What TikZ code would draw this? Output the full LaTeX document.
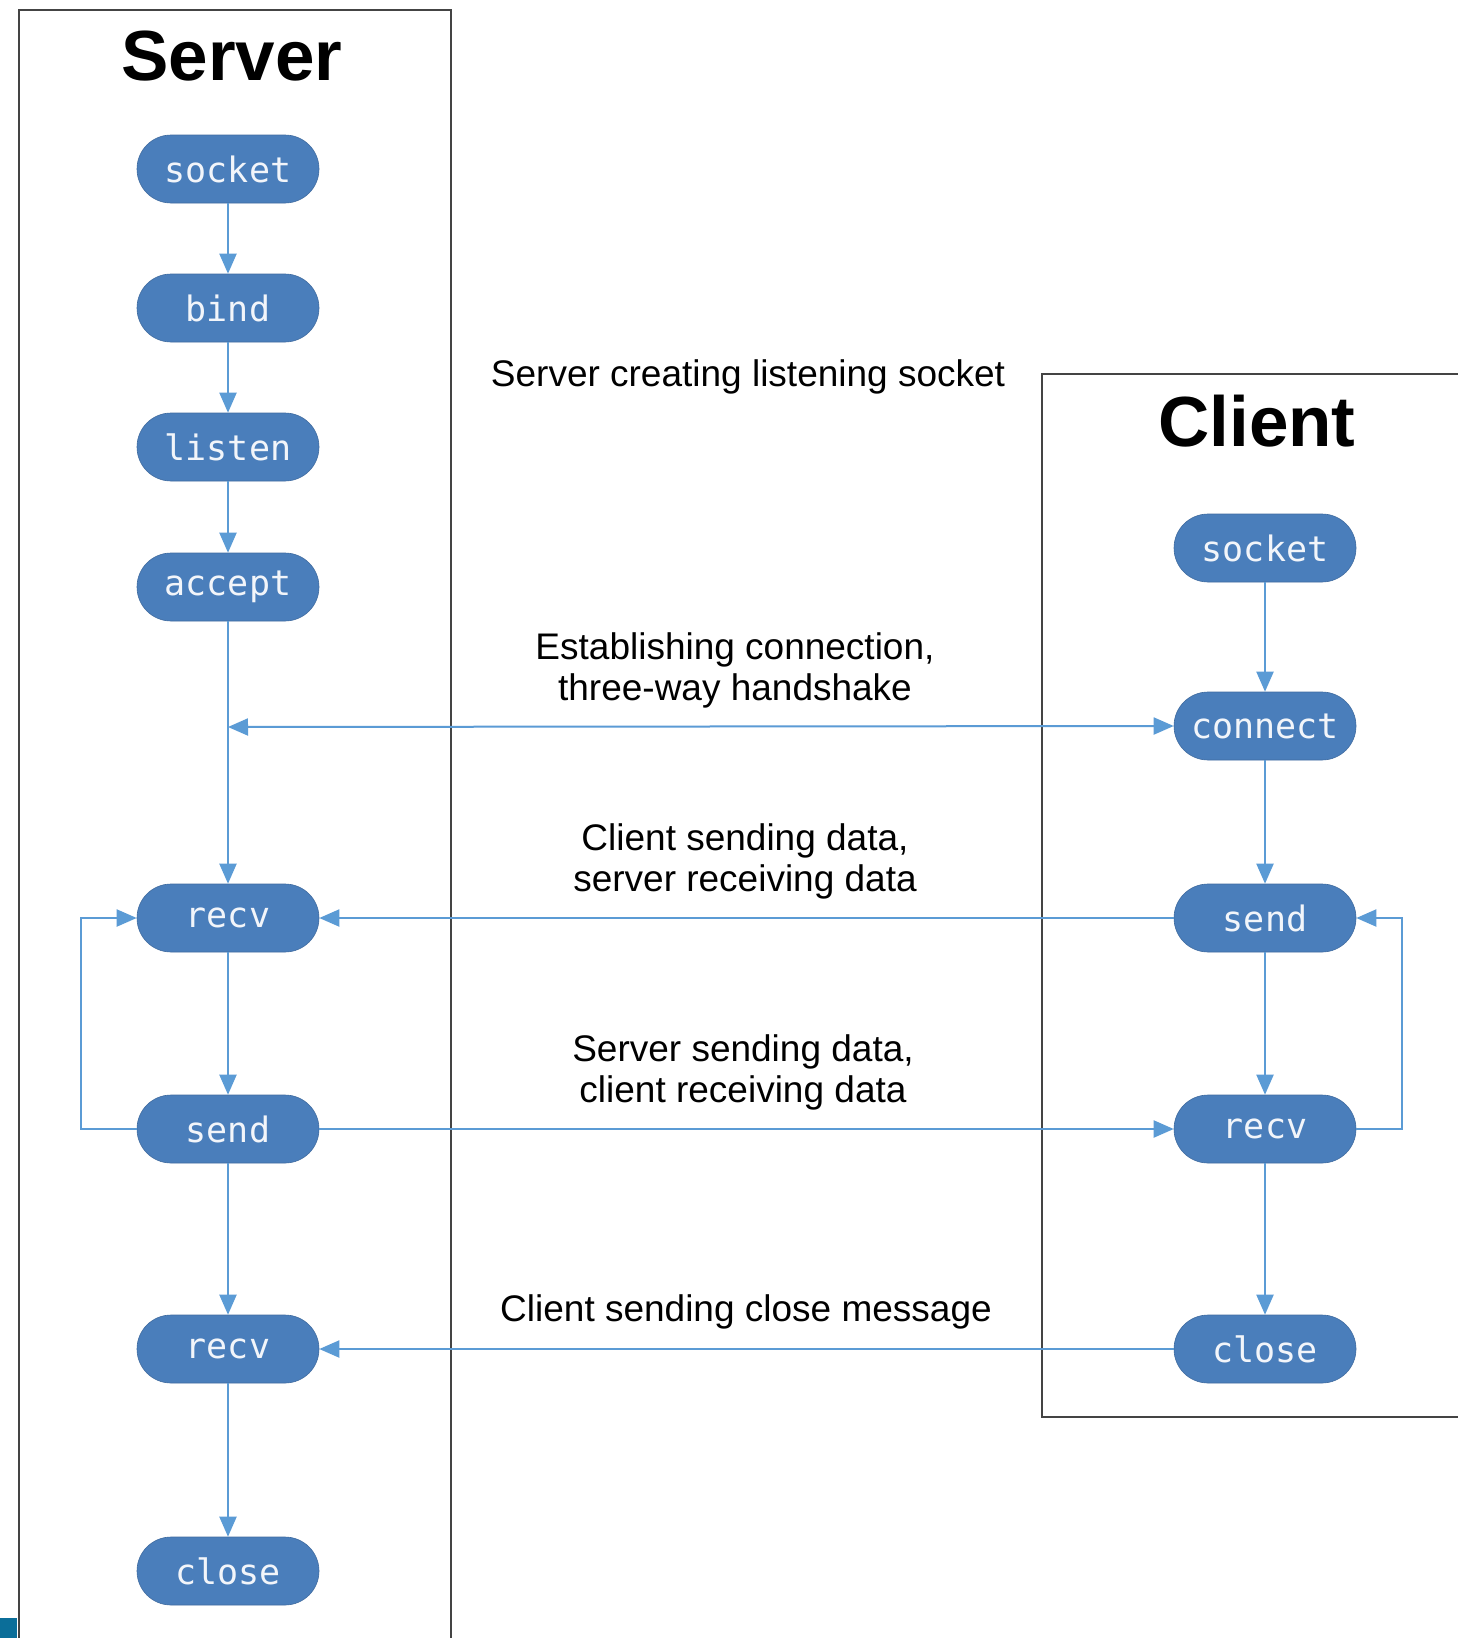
\documentclass[tikz,border=0pt]{standalone}
\usepackage{fontspec}
\setmainfont{Liberation Sans}
\newfontfamily\monofont{DejaVu Sans Mono}
\usetikzlibrary{arrows.meta,calc}
\definecolor{nodefill}{HTML}{4A7EBB}
\definecolor{linkcol}{HTML}{5B9BD5}
\definecolor{boxcol}{HTML}{444444}
\definecolor{nodetext}{HTML}{F2F5FA}
\definecolor{tealsq}{HTML}{0B6E99}
\tikzset{
  fn/.style={rectangle, rounded corners=34pt, fill=nodefill, draw=nodefill!85!black, line width=0.6pt,
    minimum width=182pt, minimum height=68pt, inner sep=0pt,
    text=nodetext, font=\monofont\fontsize{35}{40}\selectfont},
  link/.style={draw=linkcol, line width=2pt, -{Triangle[length=20pt,width=17pt]}},
  biglink/.style={draw=linkcol, line width=2pt, {Triangle[length=20pt,width=17pt]}-{Triangle[length=20pt,width=17pt]}},
  lanebox/.style={draw=boxcol, line width=2.2pt},
  title/.style={font=\bfseries\fontsize{71}{80}\selectfont, inner sep=0pt},
  lbl/.style={font=\fontsize{37}{41}\selectfont, align=center, inner sep=0pt}
}
\begin{document}
\begin{tikzpicture}[x=1pt,y=-1pt]
\useasboundingbox[fill=white] (0,0) rectangle (1458,1638);
% lanes
\draw[lanebox] (19,1645) -- (19,10) -- (451,10) -- (451,1645);
\draw[lanebox] (1470,374) -- (1042,374) -- (1042,1417) -- (1470,1417);
\fill[tealsq] (0,1618) rectangle (17,1638);
% titles
\node[title] (tserver) at (232,56) {Server};
\node[title] (tclient) at (1257,421) {Client};
% server nodes
\node[fn] (ssocket) at (228,169) {socket};
\node[fn] (sbind)   at (228,308) {bind};
\node[fn] (slisten) at (228,447) {listen};
\node[fn] (saccept) at (228,587) {accept};
\node[fn] (srecv)   at (228,918) {recv};
\node[fn] (ssend)   at (228,1129) {send};
\node[fn] (srecvb)  at (228,1349) {recv};
\node[fn] (sclose)  at (228,1571) {close};
% client nodes
\node[fn] (csocket)  at (1265,548) {socket};
\node[fn] (cconnect) at (1265,726) {connect};
\node[fn] (csend)    at (1265,918) {send};
\node[fn] (crecv)    at (1265,1129) {recv};
\node[fn] (cclose)   at (1265,1349) {close};
% labels
\node[lbl] (l1) at (748,377) {Server creating listening socket};
\node[lbl] (l2) at (735,670) {Establishing connection,\\three-way handshake};
\node[lbl] (l3) at (745,861) {Client sending data,\\server receiving data};
\node[lbl] (l4) at (743,1072) {Server sending data,\\client receiving data};
\node[lbl] (l5) at (746,1312) {Client sending close message};
% server flow
\draw[link] (ssocket) -- (sbind);
\draw[link] (sbind) -- (slisten);
\draw[link] (slisten) -- (saccept);
\draw[link] (saccept) -- (srecv);
\draw[link] (srecv) -- (ssend);
\draw[link] (ssend) -- (srecvb);
\draw[link] (srecvb) -- (sclose);
% client flow
\draw[link] (csocket) -- (cconnect);
\draw[link] (cconnect) -- (csend);
\draw[link] (csend) -- (crecv);
\draw[link] (crecv) -- (cclose);
% handshake
\coordinate (hs) at (228,727);
\draw[biglink] (hs) -- (cconnect.west);
% data exchange
\draw[link] (csend.west) -- (srecv.east);
\draw[link] (ssend.east) -- (crecv.west);
\draw[link] (cclose.west) -- (srecvb.east);
% loops
\coordinate (sl) at (81,0);
\coordinate (cl) at (1402,0);
\draw[link] (ssend.west) -- (ssend.west -| sl) -- (srecv.west -| sl) -- (srecv.west);
\draw[link] (crecv.east) -- (crecv.east -| cl) -- (csend.east -| cl) -- (csend.east);
\end{tikzpicture}
\end{document}
